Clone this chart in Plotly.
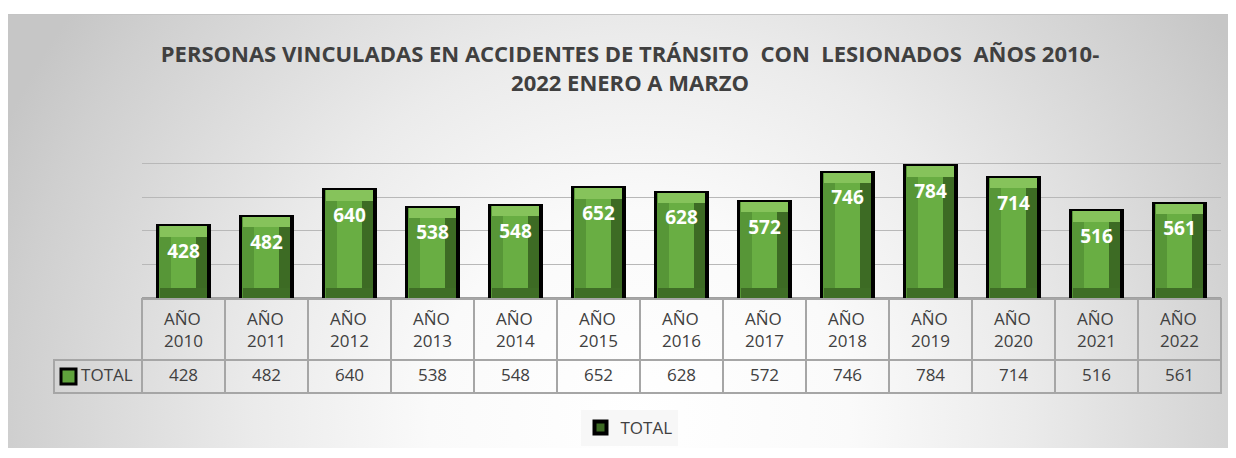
import base64
import plotly.graph_objects as go

# data
years = ["2010", "2011", "2012", "2013", "2014", "2015", "2016",
         "2017", "2018", "2019", "2020", "2021", "2022"]
total = [428, 482, 640, 538, 548, 652, 628, 572, 746, 784, 714, 516, 561]
series_name = "TOTAL"
title_lines = ["PERSONAS VINCULADAS EN ACCIDENTES DE TRÁNSITO\u00a0 CON\u00a0 LESIONADOS\u00a0 AÑOS 2010-",
               "2022 ENERO A MARZO"]

W, H = 1228, 440
FONT = "Open Sans"
TXT = "#404040"

cats = [f"AÑO {y}" for y in years]
bevel = 62  # bevel thickness in axis units

# background: radial grey gradient like the Excel chart area
svg = f"""<svg xmlns="http://www.w3.org/2000/svg" width="{W}" height="{H}" viewBox="0 0 {W} {H}" preserveAspectRatio="none">
<defs><radialGradient id="g" gradientUnits="userSpaceOnUse" cx="632" cy="412" r="700">
<stop offset="0" stop-color="#ffffff"/><stop offset="0.3" stop-color="#fafafa"/>
<stop offset="0.55" stop-color="#ebebeb"/><stop offset="0.9" stop-color="#cfcfcf"/>
<stop offset="1" stop-color="#c6c6c6"/></radialGradient></defs>
<rect x="0" y="6" width="{W}" height="{H - 6}" fill="url(#g)"/>
<line x1="0" y1="6.5" x2="{W}" y2="6.5" stroke="#c4c4c4" stroke-width="1"/>
</svg>"""
bg_src = "data:image/svg+xml;base64," + base64.b64encode(svg.encode()).decode()

fig = go.Figure()

# outer bar with black border (right bevel colour)
fig.add_trace(go.Bar(x=cats, y=total, width=0.62, name=series_name,
                     marker=dict(color="#3d6b24", line=dict(color="black", width=4)),
                     showlegend=True, hoverinfo="y"))
# left bevel
fig.add_trace(go.Bar(x=cats, y=total, width=0.29, offset=-0.29,
                     marker=dict(color="#579637", line=dict(width=0)),
                     showlegend=False, hoverinfo="skip"))
# top bevel
fig.add_trace(go.Bar(x=cats, y=[bevel] * len(total), base=[v - bevel for v in total], width=0.57,
                     marker=dict(color="#86c35b", line=dict(width=0)),
                     showlegend=False, hoverinfo="skip"))
# bottom bevel
fig.add_trace(go.Bar(x=cats, y=[bevel] * len(total), width=0.57,
                     marker=dict(color="#3f6e26", line=dict(width=0)),
                     showlegend=False, hoverinfo="skip"))
# front face
fig.add_trace(go.Bar(x=cats, y=[v - 2 * bevel for v in total], base=[bevel] * len(total), width=0.30,
                     marker=dict(color="#69ae43", line=dict(width=0)),
                     showlegend=False, hoverinfo="skip"))
# value labels
fig.add_trace(go.Scatter(x=cats, y=[v - 160 for v in total], mode="text",
                         text=[str(v) for v in total],
                         textfont=dict(family=FONT, size=19, color="white", weight="bold"),
                         showlegend=False, hoverinfo="skip"))

# data table under the bars
head = [""] + [f"AÑO<br>{y}" for y in years]
cells = [["\u00a0\u00a0\u00a0\u00a0" + series_name]] + [[str(v)] for v in total]
fig.add_trace(go.Table(
    domain=dict(x=[46 / W, 1213 / W], y=[0, 1 - 291 / H]),
    columnwidth=[88] + [83] * len(years),
    header=dict(values=head, height=57, align="center",
                fill=dict(color="rgba(0,0,0,0)"),
                line=dict(color=["rgba(0,0,0,0)"] + ["#a6a6a6"] * len(years), width=2),
                font=dict(family=FONT, size=17, color=TXT)),
    cells=dict(values=cells, height=33, align="center",
               fill=dict(color="rgba(0,0,0,0)"),
               line=dict(color="#a6a6a6", width=2),
               font=dict(family=FONT, size=17, color=TXT)),
))

fig.update_layout(
    width=W, height=H,
    margin=dict(l=0, r=0, t=0, b=0),
    paper_bgcolor="white", plot_bgcolor="rgba(0,0,0,0)",
    barmode="overlay", bargap=0,
    title=dict(text="<br>".join(title_lines), x=622 / W, xanchor="center",
               y=1 - 54 / H, yanchor="middle",
               font=dict(family=FONT, size=22, color=TXT, weight="bold")),
    xaxis=dict(domain=[134 / W, 1213 / W], type="category", range=[-0.5, 12.5],
               showticklabels=False, showgrid=False, zeroline=False, fixedrange=True),
    yaxis=dict(domain=[1 - 290 / H, 1 - 122 / H], range=[0, 1000], dtick=200,
               showticklabels=False, showgrid=True, gridcolor="#b8b8b8", gridwidth=1,
               zeroline=True, zerolinecolor="#a0a0a0", zerolinewidth=1.5, fixedrange=True),
    legend=dict(x=621 / W, y=1 - 420 / H, xanchor="center", yanchor="middle",
                orientation="h", bgcolor="#f7f7f7",
                font=dict(family=FONT, size=17, color=TXT)),
    images=[dict(source=bg_src, xref="paper", yref="paper", x=0, y=1, sizex=1, sizey=1,
                 sizing="stretch", layer="below", xanchor="left", yanchor="top")],
    shapes=[dict(type="rect", xref="paper", yref="paper",
                 x0=53 / W, x1=68 / W, y0=1 - 376 / H, y1=1 - 361 / H,
                 fillcolor="#5fa33c", line=dict(color="black", width=3))],
)

fig.write_html("out.html")
